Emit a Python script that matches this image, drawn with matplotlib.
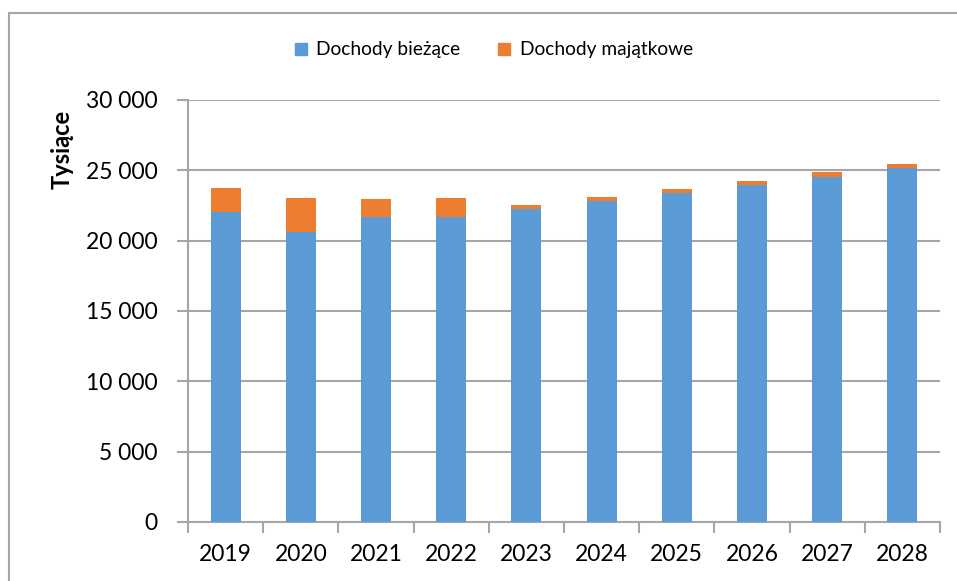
import matplotlib.pyplot as plt
from matplotlib.lines import Line2D
from matplotlib.ticker import FuncFormatter, MultipleLocator
import numpy as np

# ---------------------------------------------------------------------------
# Data (thousands)
# ---------------------------------------------------------------------------
years = ["2019", "2020", "2021", "2022", "2023", "2024", "2025", "2026", "2027", "2028"]
biezace = [22030, 20640, 21660, 21700, 22220, 22800, 23360, 23950, 24550, 25160]
majatkowe = [1690, 2390, 1300, 1310, 310, 300, 310, 320, 310, 290]

BLUE = "#5B9BD5"
ORANGE = "#ED7D31"
GRID = "#A6A6A6"

plt.rcParams["font.family"] = ["Lato", "DejaVu Sans"]

fig = plt.figure(figsize=(9.57, 5.81), dpi=100)
ax = fig.add_axes([188 / 957, 1 - 522 / 581, (940 - 188) / 957, (522 - 100) / 581])

x = np.arange(len(years))
ax.bar(x, biezace, width=0.4, color=BLUE, label="Dochody bieżące", zorder=3)
ax.bar(x, majatkowe, width=0.4, bottom=biezace, color=ORANGE,
       label="Dochody majątkowe", zorder=3)

# ---- axes ----
ax.set_xlim(-0.5, len(years) - 0.5)
ax.set_ylim(0, 30000)
ax.yaxis.set_major_locator(MultipleLocator(5000))
ax.yaxis.set_major_formatter(FuncFormatter(lambda v, p: f"{int(v):,}".replace(",", " ")))
ax.grid(axis="y", color=GRID, linewidth=1.5, zorder=0)
ax.set_axisbelow(True)

ax.set_xticks(x)
ax.set_xticklabels(years)
ax.set_xticks(np.arange(-0.5, len(years)), minor=True)
ax.tick_params(axis="x", which="major", length=0, pad=16, labelsize=16.5)
ax.tick_params(axis="x", which="minor", length=8, width=1.5, color=GRID)
ax.tick_params(axis="y", length=8, width=1.5, color=GRID, pad=14, labelsize=16.5)

for side in ["top", "right"]:
    ax.spines[side].set_visible(False)
for side in ["left", "bottom"]:
    ax.spines[side].set_color(GRID)
    ax.spines[side].set_linewidth(1.5)

# label sits near the top of the axis in the reference
ax.set_ylabel("Tysiące", fontsize=17, fontweight="bold")
ax.yaxis.set_label_coords(-0.152, 0.884)

# ---- legend ----
handles = [
    Line2D([], [], marker="s", linestyle="", markersize=8.5, color=BLUE, label="Dochody bieżące"),
    Line2D([], [], marker="s", linestyle="", markersize=8.5, color=ORANGE, label="Dochody majątkowe"),
]
fig.legend(handles=handles, loc="center", bbox_to_anchor=(0.514, 0.914), ncol=2,
           frameon=False, fontsize=13.8, handletextpad=0.3, columnspacing=1.8,
           handlelength=1.0)

# ---- outer frame (partly clipped in the reference) ----
fig.add_artist(Line2D([9 / 957, 1], [1 - 13 / 581, 1 - 13 / 581], color=GRID, linewidth=1.5))
fig.add_artist(Line2D([9 / 957, 9 / 957], [0, 1 - 13 / 581], color=GRID, linewidth=1.5))

fig.savefig("out.png", dpi=100)
